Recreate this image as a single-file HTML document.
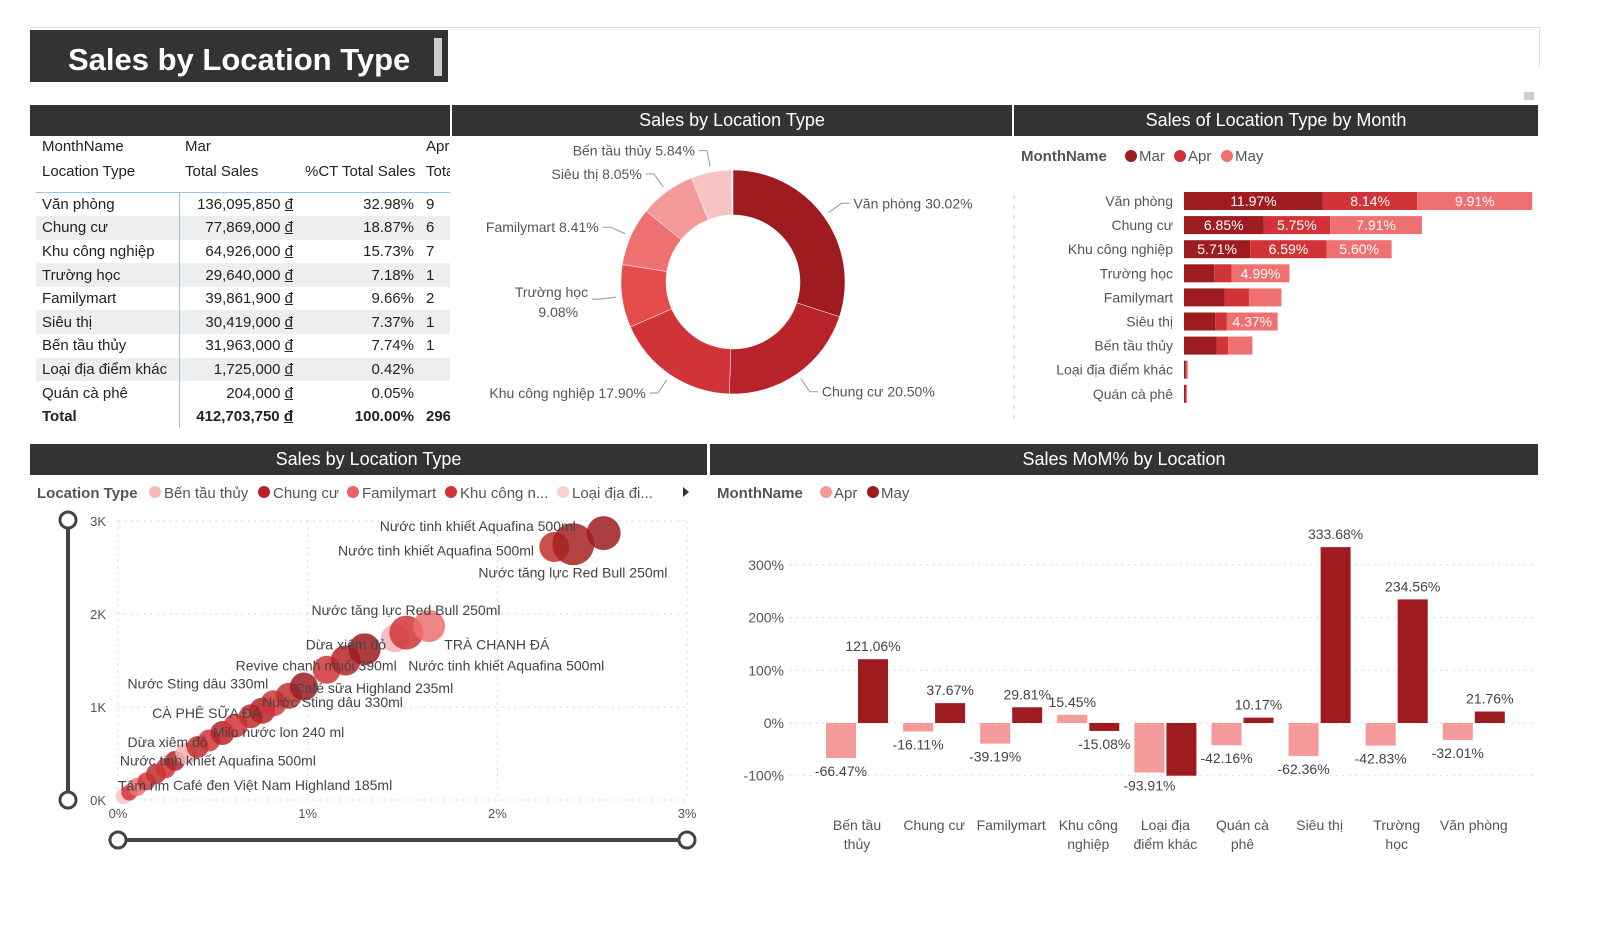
<!DOCTYPE html>
<html><head><meta charset="utf-8">
<style>
body{margin:0;width:1600px;height:926px;background:#fff;font-family:"Liberation Sans","DejaVu Sans",sans-serif;overflow:hidden;position:relative}
.abs{position:absolute}
.hdr{position:absolute;background:#333;color:#fff;font-size:18px;text-align:center;line-height:31px;height:31px}
table{border-collapse:collapse;font-size:15px;color:#222;table-layout:fixed}
td{padding:0 6px;height:23.6px;white-space:nowrap;overflow:hidden}
</style></head><body>
<div class="abs" style="left:30px;top:27px;width:1510px;height:1px;background:#ddd"></div>
<div class="abs" style="left:1539px;top:27px;width:1px;height:40px;background:#ddd"></div>
<div class="abs" style="left:30px;top:30px;width:418px;height:52px;background:#333;color:#fff;font-size:31px;font-weight:bold;line-height:60px;padding-left:38px;box-sizing:border-box">Sales by Location Type<div style="position:absolute;left:404px;top:8px;width:8px;height:38px;background:#ccc"></div></div>
<div class="abs" style="left:1524px;top:92px;width:10px;height:8px;background:#ccc"></div>

<div class="hdr" style="left:30px;top:105px;width:420px"></div>
<div class="hdr" style="left:452px;top:105px;width:560px">Sales by Location Type</div>
<div class="hdr" style="left:1014px;top:105px;width:524px">Sales of Location Type by Month</div>
<div class="hdr" style="left:30px;top:444px;width:677px">Sales by Location Type</div>
<div class="hdr" style="left:710px;top:444px;width:828px">Sales MoM% by Location</div>

<div class="abs" style="left:36px;top:134px;width:414px;height:300px;overflow:hidden">
<table style="width:460px">
<colgroup><col style="width:143px"><col style="width:120px"><col style="width:121px"><col style="width:76px"></colgroup>
<tr style="height:25px"><td>MonthName</td><td>Mar</td><td></td><td>Apr</td></tr>
<tr style="height:25px"><td>Location Type</td><td>Total Sales</td><td style="text-align:right">%CT Total Sales</td><td>Total</td></tr>
<tr style="height:8px;border-bottom:1px solid #9cc3e5"><td colspan="4" style="height:6px;padding:0"></td></tr>
<tbody id="tb"></tbody>
</table>
</div>
<div class="abs" style="left:179px;top:192px;width:1px;height:236px;background:#9cc3e5"></div>

<svg class="abs" style="left:0;top:0" width="1600" height="926" id="svg"></svg>

<script>
// ---- table data
const tRows=["Văn phòng","Chung cư","Khu công nghiệp","Trường học","Familymart","Siêu thị","Bến tầu thủy","Loại địa điểm khác","Quán cà phê"];
const tSales=["136,095,850","77,869,000","64,926,000","29,640,000","39,861,900","30,419,000","31,963,000","1,725,000","204,000"];
const tPct=["32.98%","18.87%","15.73%","7.18%","9.66%","7.37%","7.74%","0.42%","0.05%"];
const tApr=["9","6","7","1","2","1","1","",""];
const tb=document.getElementById('tb');
tRows.forEach((r,i)=>{const tr=document.createElement('tr');


if(i%2==1)tr.style.background='#eee';
tr.innerHTML=`<td>${r}</td><td style="text-align:right">${tSales[i]} <u>đ</u></td><td style="text-align:right">${tPct[i]}</td><td>${tApr[i]}</td>`;tb.appendChild(tr);});
const trT=document.createElement('tr');


trT.style.fontWeight='bold';
trT.innerHTML='<td>Total</td><td style="text-align:right">412,703,750 <u>đ</u></td><td style="text-align:right">100.00%</td><td>296</td>';tb.appendChild(trT);

const S=document.getElementById('svg');const NS='http://www.w3.org/2000/svg';
function mk(t,a,txt){const e=document.createElementNS(NS,t);for(const k in a)e.setAttribute(k,a[k]);if(txt!==undefined)e.textContent=txt;S.appendChild(e);return e;}
function tx(x,y,s,o){return mk('text',Object.assign({x:x,y:y,'font-size':14,fill:'#555','font-family':'Liberation Sans, DejaVu Sans, sans-serif'},o||{}),s);}

// ---- donut
const dCats=["Văn phòng","Chung cư","Khu công nghiệp","Trường học","Familymart","Siêu thị","Bến tầu thủy"];
const dVals=[30.02,20.50,17.90,9.08,8.41,8.05,5.84];
const dCols=["#9e1b20","#b8232a","#d13438","#e64c4c","#ef7070","#f49999","#f8c3c3"];
const cx=733,cy=282,R=112,r0=67;
const dTot=dVals.reduce((a,b)=>a+b,0)+0.2;
let ang=0;
dVals.forEach((v,i)=>{const a0=ang,a1=ang+v/dTot*2*Math.PI;ang=a1;
const p=(a,rr)=>[cx+rr*Math.sin(a),cy-rr*Math.cos(a)];
const [x0,y0]=p(a0,R),[x1,y1]=p(a1,R),[x2,y2]=p(a1,r0),[x3,y3]=p(a0,r0);const lg=(a1-a0)>Math.PI?1:0;
const e=mk('path',{d:`M${x0},${y0}A${R},${R} 0 ${lg} 1 ${x1},${y1}L${x2},${y2}A${r0},${r0} 0 ${lg} 0 ${x3},${y3}Z`,fill:dCols[i],stroke:'#fff','stroke-width':0.5});


const am=(a0+a1)/2;const [lx,ly]=p(am,R+6),[lx2,ly2]=p(am,R+22);const right=Math.sin(am)>0;
mk('polyline',{points:`${lx},${ly} ${lx2},${ly2} ${lx2+(right?8:-8)},${ly2}`,fill:'none',stroke:'#999'});
const lab=dCats[i]+' '+v.toFixed(2)+'%';
if(dCats[i]=="Trường học"){tx(lx2-12,ly2-2,'Trường học',{'text-anchor':'end'});tx(lx2-22,ly2+18,v.toFixed(2)+'%',{'text-anchor':'end'});}
else tx(lx2+(right?12:-12),ly2+5,lab,{'text-anchor':right?'start':'end'});
});

// ---- stacked bar
const sCats=tRows;
const sMar=[11.97,6.85,5.71,2.6,3.5,2.7,2.8,0.15,0.02];
const sApr=[8.14,5.75,6.59,1.5,2.1,1.0,1.0,0.05,0.01];
const sMay=[9.91,7.91,5.60,4.99,2.8,4.37,2.1,0.05,0.02];
const sCols=["#9e1b20","#d13438","#ef7070"];
const bx0=1184,bpx=11.6;
tx(1021,161,'MonthName',{'font-weight':'bold','font-size':15});
[['Mar',1131],['Apr',1180],['May',1227]].forEach((m,i)=>{mk('circle',{cx:m[1],cy:156,r:6,fill:sCols[i]});tx(m[1]+8,161,m[0],{'font-size':15});});
mk('line',{x1:1014,y1:195,x2:1014,y2:425,stroke:'#ccc','stroke-dasharray':'4 6'});
sCats.forEach((c,i)=>{const y=192+i*24.1;tx(1173,y+14,c,{'text-anchor':'end'});
let x=bx0;[sMar,sApr,sMay].forEach((ser,j)=>{const w=Math.max(ser[i]*bpx,1);
const e=mk('rect',{x:x,y:y,width:w,height:18,fill:sCols[j]});


if(ser[i]>4.3)tx(x+w/2,y+14,ser[i].toFixed(2)+'%',{'text-anchor':'middle',fill:'#fff'});x+=w;});});

// ---- scatter
const scX=[2.56,2.4,2.3,1.64,1.52,1.46,1.3,1.2,1.1,0.98,0.9,0.82,0.76,0.7,0.62,0.55,0.48,0.42,0.36,0.3,0.25,0.2,0.15,0.1,0.06,0.03];
const scY=[2.87,2.75,2.72,1.87,1.8,1.74,1.62,1.5,1.4,1.22,1.12,1.04,0.96,0.9,0.8,0.72,0.64,0.57,0.5,0.42,0.34,0.28,0.2,0.14,0.08,0.04];
const scR=[17,21,15,16,17,14,16,15,14,14,13,13,13,12,12,12,11,11,11,10,10,10,9,9,8,8];
const scC=["#9e1b20","#a52222","#c0302f","#ef7070","#d13438","#f4b3b3","#9e1b20","#b8232a","#d13438","#9e1b20","#c0302f","#d13438","#b8232a","#c0302f","#d13438","#b8232a","#d13438","#c0302f","#f4b3b3","#b8232a","#d13438","#c0302f","#d13438","#ef7070","#d13438","#f8c3c3"];
const scLab=["Nước tinh khiết Aquafina 500ml","Nước tinh khiết Aquafina 500ml","Nước tăng lực Red Bull 250ml","Nước tăng lực Red Bull 250ml","Dừa xiêm đỏ","TRÀ CHANH ĐÁ","Revive chanh muối 390ml","Nước tinh khiết Aquafina 500ml","Nước Sting dâu 330ml","Café sữa Highland 235ml","Nước Sting dâu 330ml","CÀ PHÊ SỮA ĐÁ","Milo nước lon 240 ml","Dừa xiêm đỏ","Nước tinh khiết Aquafina 500ml","Tâm rim","Café đen Việt Nam Highland 185ml"];
const scLx=[1.38,1.16,1.9,1.02,0.99,1.72,0.62,1.53,0.05,0.93,0.76,0.18,0.5,0.05,0.01,0.0,0.29];
const scLy=[2.89,2.63,2.39,1.99,1.62,1.62,1.39,1.39,1.2,1.15,1.0,0.88,0.68,0.57,0.37,0.1,0.11];
const xS=v=>118+v*189.7, yS=v=>800-v*93;
const xTicks=[0,1,2,3],yTicks=[0,1,2,3];
tx(37,498,'Location Type',{'font-weight':'bold','font-size':15});
[['Bến tầu thủy','#f8b8b8',155],['Chung cư','#b8232a',264],['Familymart','#ef6060',353],['Khu công n...','#d13438',451],['Loại địa đi...','#f8d0d0',563]].forEach(l=>{mk('circle',{cx:l[2],cy:492,r:6,fill:l[1]});tx(l[2]+9,498,l[0],{'font-size':15});});
mk('path',{d:'M683,487 l6,5 l-6,5z',fill:'#333'});
yTicks.forEach(t=>{mk('line',{x1:118,x2:690,y1:yS(t),y2:yS(t),stroke:'#ccc','stroke-dasharray':'1.5 5'});tx(106,yS(t)+5,t+'K',{'text-anchor':'end','font-size':13});});
xTicks.forEach(t=>{mk('line',{x1:xS(t),x2:xS(t),y1:521,y2:800,stroke:'#ccc','stroke-dasharray':'1.5 5'});tx(xS(t),818,t+'%',{'text-anchor':'middle','font-size':13});});
for(let i=scX.length-1;i>=0;i--){const e=mk('circle',{cx:xS(scX[i]),cy:yS(scY[i]),r:scR[i],fill:scC[i],'fill-opacity':0.85});

}
scLab.forEach((l,i)=>tx(xS(scLx[i]),yS(scLy[i]),l,{'font-size':14,fill:'#444'}));
mk('line',{x1:68,y1:520,x2:68,y2:800,stroke:'#444','stroke-width':4});
[520,800].forEach(y=>mk('circle',{cx:68,cy:y,r:8,fill:'#fff',stroke:'#444','stroke-width':3}));
mk('line',{x1:118,y1:840,x2:687,y2:840,stroke:'#444','stroke-width':4});
[118,687].forEach(x=>mk('circle',{cx:x,cy:840,r:8,fill:'#fff',stroke:'#444','stroke-width':3}));

// ---- MoM bars
const mCats=[["Bến tầu","thủy"],["Chung cư"],["Familymart"],["Khu công","nghiệp"],["Loại địa","điểm khác"],["Quán cà","phê"],["Siêu thị"],["Trường","học"],["Văn phòng"]];
const mApr=[-66.47,-16.11,-39.19,15.45,-93.91,-42.16,-62.36,-42.83,-32.01];
const mMay=[121.06,37.67,29.81,-15.08,-100,10.17,333.68,234.56,21.76];
const mTicks=[300,200,100,0,-100];
const myS=v=>723-v*0.527, mxC=i=>857+i*77.1;
tx(717,498,'MonthName',{'font-weight':'bold','font-size':15});
mk('circle',{cx:826,cy:492,r:6,fill:'#f49a9a'});tx(834,498,'Apr',{'font-size':15});
mk('circle',{cx:873,cy:492,r:6,fill:'#9e1b20'});tx(881,498,'May',{'font-size':15});
mTicks.forEach(t=>{mk('line',{x1:790,x2:1535,y1:myS(t),y2:myS(t),stroke:'#ccc','stroke-dasharray':'1.5 5'});tx(784,myS(t)+5,t+'%',{'text-anchor':'end','font-size':14});});
mCats.forEach((c,i)=>{const xc=mxC(i);
[[mApr,'#f49a9a',-31],[mMay,'#9e1b20',1]].forEach(s=>{const v=s[0][i];const y1=myS(Math.max(v,0)),y2=myS(Math.min(v,0));
const e=mk('rect',{x:xc+s[2],y:y1,width:30,height:y2-y1,fill:s[1]});


if(!(i==4&&s[1]=='#9e1b20'))tx(xc+s[2]+15,v>=0?y1-8:y2+18,v.toFixed(2)+'%',{'text-anchor':'middle','font-size':14,fill:'#444'});});
c.forEach((l,k)=>tx(xc,830+k*19,l,{'text-anchor':'middle','font-size':14}));});
</script>
</body></html>
